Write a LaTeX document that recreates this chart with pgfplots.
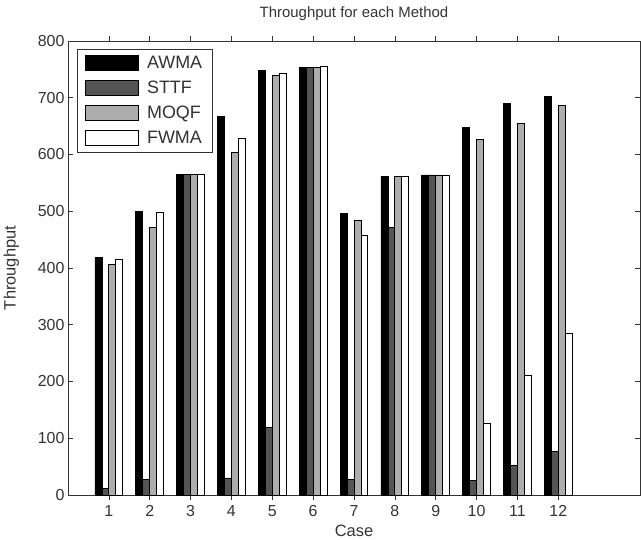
\documentclass[border=0pt]{standalone}
\usepackage{pgfplots}
\pgfplotsset{compat=1.18}
\usepackage{fontspec}
\setmainfont{Liberation Sans}
\definecolor{sttf}{gray}{0.33}
\definecolor{moqf}{gray}{0.68}
\definecolor{txt}{gray}{0.2}
\pgfplotsset{ybar legend/.style={legend image code/.code={\draw[##1,line width=0.8pt] (0bp,-7.5bp) rectangle (53bp,7.5bp);}}}
\begin{document}
\begin{tikzpicture}
\begin{axis}[
  scale only axis,
  width=572bp, height=454bp,
  xmin=0, xmax=14, ymin=0, ymax=800,
  xtick={1,...,12}, ytick={0,100,...,800},
  tick align=inside,
  major tick length=5bp,
  axis line style={black!80, line width=0.6pt},
  tick style={black!80, line width=0.6pt},
  /pgf/number format/assume math mode=true,
  ticklabel style={font=\fontsize{16}{16}\selectfont, text=txt},
  xticklabel style={yshift=-2bp},
  title={Throughput for each Method},
  title style={font=\fontsize{15}{15}\selectfont, text=txt, yshift=11bp},
  xlabel={Case}, ylabel={Throughput},
  label style={font=\fontsize{16.5}{16.5}\selectfont, text=txt},
  xlabel style={yshift=-1bp},
  ylabel style={yshift=12bp},
  ybar, bar width=0.17,
  legend cell align=left,
  legend style={at={(0.0157,0.982)}, anchor=north west, draw=black!80, line width=0.6pt,
    font=\fontsize{18}{18}\selectfont, text=txt, row sep=7bp, inner xsep=8bp, inner ysep=5bp,
    /tikz/every odd column/.append style={column sep=6bp}},
  every axis plot/.append style={draw=black, line width=0.8pt},
]
\addplot[fill=black, bar shift=-0.255] coordinates {(1,419) (2,500) (3,565) (4,667) (5,748) (6,754) (7,496) (8,562) (9,564) (10,648) (11,690) (12,702)};
\addplot[fill=sttf, bar shift=-0.085] coordinates {(1,11) (2,28) (3,565) (4,30) (5,119) (6,754) (7,27) (8,472) (9,564) (10,25) (11,52) (12,76)};
\addplot[fill=moqf, bar shift=0.085] coordinates {(1,407) (2,472) (3,565) (4,603) (5,739) (6,754) (7,484) (8,561) (9,564) (10,627) (11,655) (12,687)};
\addplot[fill=white, bar shift=0.255] coordinates {(1,415) (2,498) (3,565) (4,629) (5,743) (6,756) (7,458) (8,561) (9,564) (10,126) (11,210) (12,285)};
\legend{AWMA,STTF,MOQF,FWMA}
\end{axis}
\pgfresetboundingbox
\useasboundingbox ([shift={(-68bp,-45bp)}]current axis.south west) rectangle ([shift={(1bp,41bp)}]current axis.north east);
\end{tikzpicture}
\end{document}
